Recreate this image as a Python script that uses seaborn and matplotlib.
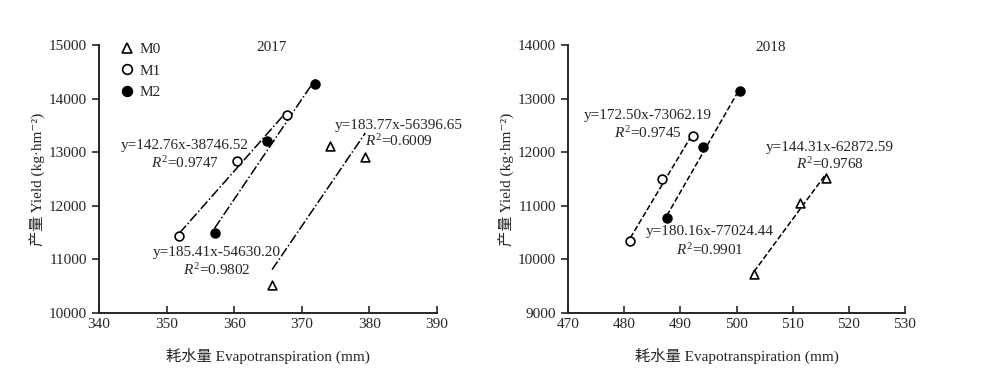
import numpy as np
import pandas as pd
import seaborn as sns
import matplotlib.pyplot as plt

# 2017 evapotranspiration (mm) and yield (kg/hm2) per treatment
et_2017_m0 = [365.6, 374.1, 379.4]
yield_2017_m0 = [10530, 13110, 12910]
et_2017_m1 = [351.9, 360.4, 367.8]
yield_2017_m1 = [11430, 12840, 13690]
et_2017_m2 = [357.1, 364.9, 372.0]
yield_2017_m2 = [11500, 13210, 14270]

# 2018
et_2018_m0 = [503.1, 511.3, 515.9]
yield_2018_m0 = [9730, 11050, 11520]
et_2018_m1 = [481.1, 486.7, 492.3]
yield_2018_m1 = [10340, 11510, 12300]
et_2018_m2 = [487.6, 494.1, 500.6]
yield_2018_m2 = [10770, 12100, 13140]

groups = ["M0", "M1", "M2"]
eq_2017 = ["y=183.77x-56396.65", "y=142.76x-38746.52", "y=185.41x-54630.20"]
r2_2017 = ["0.6009", "0.9747", "0.9802"]
eq_2018 = ["y=144.31x-62872.59", "y=172.50x-73062.19", "y=180.16x-77024.44"]
r2_2018 = ["0.9768", "0.9745", "0.9901"]

sns.set_style("ticks")
plt.rcParams["font.family"] = ["Liberation Serif", "Noto Sans CJK SC", "DejaVu Serif"]
plt.rcParams["mathtext.fontset"] = "custom"
plt.rcParams["mathtext.rm"] = "Liberation Serif"
plt.rcParams["mathtext.it"] = "Liberation Serif:italic"
plt.rcParams["font.size"] = 11


def make_df(ets, ys):
    rows = []
    for g, e, y in zip(groups, ets, ys):
        for a, b in zip(e, y):
            rows.append({"group": g, "et": a, "yield": b})
    return pd.DataFrame(rows)


df17 = make_df([et_2017_m0, et_2017_m1, et_2017_m2],
               [yield_2017_m0, yield_2017_m1, yield_2017_m2])
df18 = make_df([et_2018_m0, et_2018_m1, et_2018_m2],
               [yield_2018_m0, yield_2018_m1, yield_2018_m2])

styles = {
    "M0": dict(marker="^", facecolor="white"),
    "M1": dict(marker="o", facecolor="white"),
    "M2": dict(marker="o", facecolor="black"),
}

fig = plt.figure(figsize=(10, 3.88), dpi=100)
ax1 = fig.add_axes([0.099, 0.193, 0.338, 0.691])
ax2 = fig.add_axes([0.568, 0.193, 0.337, 0.691])


def draw(ax, df, ls):
    for g in groups:
        sub = df[df["group"] == g]
        sns.regplot(data=sub, x="et", y="yield", ax=ax, scatter=False, ci=None,
                    color="black", line_kws=dict(lw=1.1, ls=ls))
        sns.scatterplot(data=sub, x="et", y="yield", ax=ax, marker=styles[g]["marker"],
                        facecolor=styles[g]["facecolor"], edgecolor="black",
                        linewidth=1.2, s=40, label=g, zorder=3, legend=False)
    for s in ["top", "right"]:
        ax.spines[s].set_visible(False)
    for s in ["left", "bottom"]:
        ax.spines[s].set_linewidth(1.4)
    ax.tick_params(axis="x", direction="in", length=5, width=1.2, labelsize=11)
    ax.tick_params(axis="y", direction="out", length=5, width=1.2, labelsize=11)
    ax.set_xlabel("耗水量 Evapotranspiration (mm)", fontsize=11, labelpad=12)
    ax.set_ylabel("产量 Yield (kg·hm⁻²)", fontsize=11, labelpad=2)


draw(ax1, df17, "-.")
draw(ax2, df18, "--")

ax1.set_xlim(340, 390)
ax1.set_ylim(10000, 15000)
ax1.set_xticks(np.arange(340, 391, 10))
ax1.set_yticks(np.arange(10000, 15001, 1000))
ax2.set_xlim(470, 530)
ax2.set_ylim(9000, 14000)
ax2.set_xticks(np.arange(470, 531, 10))
ax2.set_yticks(np.arange(9000, 14001, 1000))

ax1.text(0.51, 0.99, "2017", transform=ax1.transAxes, ha="center", va="center", fontsize=11)
ax2.text(0.60, 0.99, "2018", transform=ax2.transAxes, ha="center", va="center", fontsize=11)

# equation labels (M0, M1, M2)
pos17 = [(384.4, 13494, 13209), (352.7, 13121, 12799), (357.4, 11125, 10802)]
for (x, ye, yr), eq, r2 in zip(pos17, eq_2017, r2_2017):
    ax1.text(x, ye, eq, ha="center", va="center", fontsize=11)
    ax1.text(x, yr, "$R^{2}$=" + r2, ha="center", va="center", fontsize=11)

pos18 = [(516.6, 12092, 11775), (484.2, 12682, 12353), (495.3, 10517, 10176)]
for (x, ye, yr), eq, r2 in zip(pos18, eq_2018, r2_2018):
    ax2.text(x, ye, eq, ha="center", va="center", fontsize=11, clip_on=False)
    ax2.text(x, yr, "$R^{2}$=" + r2, ha="center", va="center", fontsize=11)

handles = [plt.Line2D([], [], ls="none", marker=styles[g]["marker"], markersize=7,
                      markerfacecolor=styles[g]["facecolor"], markeredgecolor="black",
                      markeredgewidth=1.2) for g in groups]
ax1.legend(handles, groups, loc="upper left", bbox_to_anchor=(0.015, 1.06), frameon=False,
           handletextpad=0.2, labelspacing=0.5, handlelength=1.2, fontsize=11)

fig.savefig("out.png", dpi=100)
